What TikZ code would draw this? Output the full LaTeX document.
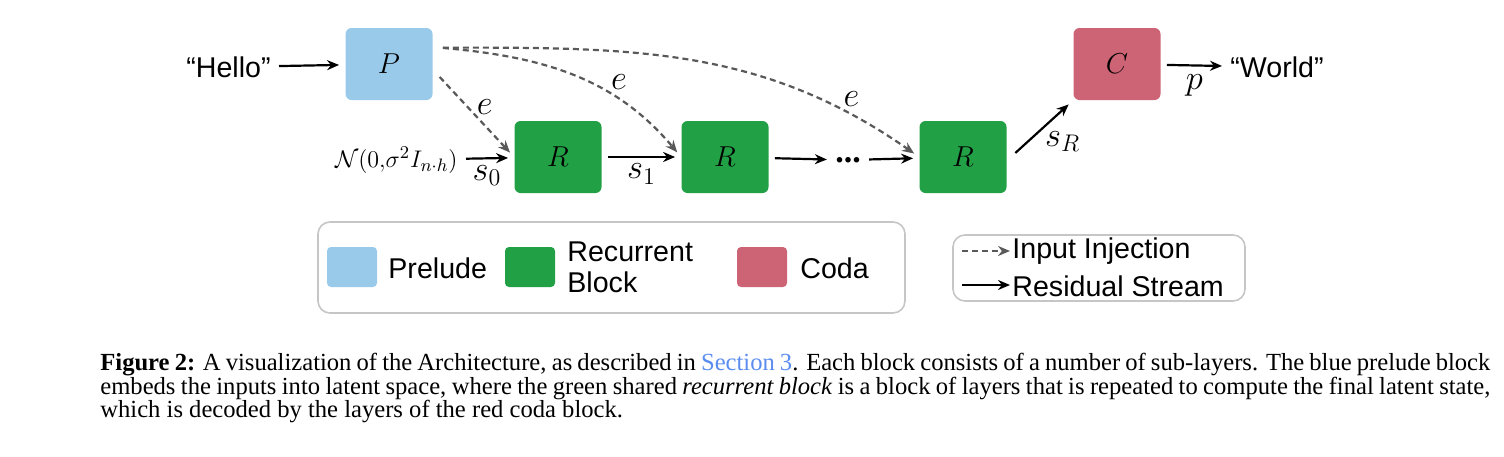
\documentclass[tikz,border=0pt]{standalone}
\usepackage{fontspec}
\setmainfont{Liberation Serif}
\newfontfamily\sansf{Liberation Sans}
\usetikzlibrary{arrows.meta}
\begin{document}
\begin{tikzpicture}[x=0.5pt,y=-0.5pt,
  blk/.style={rounded corners=3pt,minimum width=43.5pt,minimum height=36pt,inner sep=0pt,font=\fontsize{15}{17}\selectfont},
  sw/.style={rounded corners=2pt,minimum width=25pt,minimum height=20pt,inner sep=0pt},
  lbl/.style={font=\sansf\fontsize{14.3}{15.5}\selectfont,inner sep=1pt},
  arr/.style={-{Stealth[length=6pt,width=5pt]},line width=1.1pt,shorten <=3pt,shorten >=3pt},
  dar/.style={-{Stealth[length=6pt,width=5pt]},line width=1.1pt,gray!70!black,dash pattern=on 3pt off 2pt,shorten <=2pt,shorten >=3pt},
  ml/.style={font=\fontsize{17}{19}\selectfont,inner sep=1pt}]
\useasboundingbox (0,0) rectangle (1504,456);
\definecolor{pb}{HTML}{99CAEA}\definecolor{gb}{HTML}{22A045}\definecolor{cb}{HTML}{CD6475}
\node[blk,fill=pb] (P) at (389,64) {$P$};
\node[blk,fill=gb] (R1) at (558,157) {$R$};
\node[blk,fill=gb] (R2) at (725,157) {$R$};
\node[blk,fill=gb] (R3) at (963,157) {$R$};
\node[blk,fill=cb] (C) at (1117,64) {$C$};
\node[lbl,anchor=east] (hello) at (273,67) {“Hello”};
\node[lbl,anchor=west] (world) at (1228,67) {“World”};
\node[font=\fontsize{13}{15}\selectfont,inner sep=1pt,anchor=east] (N) at (460,160) {$\mathcal{N}(0{,}\sigma^2 I_{n\cdot h})$};
\node[ml] (dots) at (848,160) {\textbf{...}};
\draw[arr] (hello) -- (P);
\draw[arr] (C) -- node[ml,below=3pt]{$p$} (world);
\draw[arr] (N) -- node[ml,below=2pt]{$s_0$} (R1);
\draw[arr] (R1) -- node[ml,below=2pt]{$s_1$} (R2);
\draw[arr] (R2) -- (dots);
\draw[arr] (dots) -- (R3);
\draw[arr] (R3.east) ++(4,0) coordinate (a) (a) -- node[ml,below right=0pt]{$s_R$} (C.south west);
\draw[dar] (P.east) ++(4,10) coordinate (p1) (p1) -- node[ml,pos=0.4,right=3pt,black]{$e$} (R1.west);
\draw[dar] (P.north east) ++(6,20) coordinate (p2) (p2) to[out=-5,in=130] node[ml,pos=0.65,above right=0pt,black]{$e$} (R2.west);
\draw[dar] (p2) to[out=0,in=145] node[ml,pos=0.83,above right=0pt,black]{$e$} (R3.west);
% legend 1
\node[draw=gray!45,rounded corners=6pt,minimum width=293.5pt,minimum height=45.5pt,line width=0.8pt] (L1) at (611.5,267.5) {};
\node[sw,fill=pb] (s1) at (352,267) {};
\node[lbl,anchor=west] (t1) at (386,268) {Prelude};
\node[sw,fill=gb] (s2) at (530,267) {};
\node[lbl,anchor=west,align=left] (t2) at (565,267) {Recurrent\\Block};
\node[sw,fill=cb] (s3) at (762,267) {};
\node[lbl,anchor=west] (t3) at (798,268) {Coda};
% legend 2
\node[draw=gray!45,rounded corners=6pt,minimum width=146pt,minimum height=33pt,line width=0.8pt] (L2) at (1099,268) {};
\coordinate (d1) at (962,251); \coordinate (d2) at (1010,251);
\coordinate (d3) at (962,285); \coordinate (d4) at (1010,285);
\draw[dar,shorten <=0pt,shorten >=0pt] (d1) -- (d2);
\draw[arr,shorten <=0pt,shorten >=0pt] (d3) -- (d4);
\node[lbl,anchor=west] (t4) at (1010,251) {Input Injection};
\node[lbl,anchor=west] (t5) at (1010,286) {Residual Stream};
% caption
\node[anchor=north west,text width=695pt,align=justify,inner sep=0pt,font=\fontsize{12.3}{11.8}\selectfont] (cap) at (100,353)
{\textbf{Figure 2:} A visualization of the Architecture, as described in \textcolor[HTML]{5B8DEF}{Section 3}. Each block consists of a number of sub-layers. The blue prelude block embeds the inputs into latent space, where the green shared \textit{recurrent block} is a block of layers that is repeated to compute the final latent state, which is decoded by the layers of the red coda block.};
\end{tikzpicture}
\end{document}
